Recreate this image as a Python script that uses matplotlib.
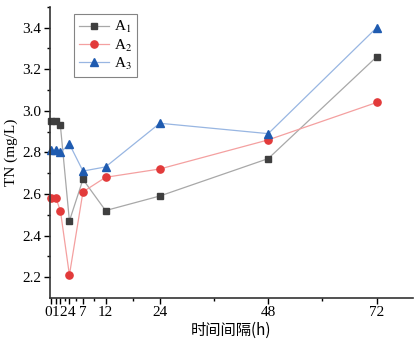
import matplotlib
matplotlib.use("Agg")
from matplotlib import pyplot as plt
from matplotlib.transforms import ScaledTranslation

hours = [0, 1, 2, 4, 7, 12, 24, 48, 72]
a1 = [2.95, 2.95, 2.93, 2.47, 2.67, 2.52, 2.59, 2.77, 3.26]
a2 = [2.58, 2.58, 2.52, 2.21, 2.61, 2.68, 2.72, 2.86, 3.04]
a3 = [2.81, 2.81, 2.80, 2.84, 2.71, 2.73, 2.94, 2.89, 3.40]
xticks = [0, 1, 2, 4, 7, 12, 24, 48, 72]
xticklabels = ["0", "1", "2", "4", "7", "12", "24", "48", "72"]
yticks = [2.2, 2.4, 2.6, 2.8, 3.0, 3.2, 3.4]

plt.rcParams['font.family'] = ['Liberation Serif', 'Noto Sans CJK SC']
plt.rcParams['mathtext.fontset'] = 'stix'

fig = plt.figure(figsize=(4.2, 3.42), dpi=100)
ax = fig.add_axes([0.119, 0.129, 0.864, 0.851])

ax.plot(hours, a1, color='#a8a8a8', lw=0.9, marker='s', ms=4.6,
        mfc='#3f3f3f', mec='#3f3f3f', label='A$_1$', clip_on=False)
ax.plot(hours, a2, color='#f4a0a0', lw=0.9, marker='o', ms=5.2,
        mfc='#e23a3a', mec='#e23a3a', label='A$_2$', clip_on=False)
ax.plot(hours, a3, color='#98b6e2', lw=0.9, marker='^', ms=5.8,
        mfc='#1f5bb0', mec='#1f5bb0', label='A$_3$', clip_on=False)

ax.set_xlim(-0.3, 80)
ax.set_ylim(2.1, 3.5)
ax.set_xticks(xticks)
ax.set_xticklabels(xticklabels)
ax.set_xticks([3, 5.5, 9.5, 18, 36, 60], minor=True)
ax.set_yticks(yticks)
ax.set_yticks([2.3, 2.5, 2.7, 2.9, 3.1, 3.3, 3.5], minor=True)
ax.tick_params(labelsize=11, direction='out', length=4, width=1, pad=2)
ax.tick_params(which='minor', length=2, width=1)

# the first few hour labels sit close together, nudge them apart
shifts = {0: -3.5, 1: -0.5, 2: 2.8, 3: 2.2}
for i, lab in enumerate(ax.get_xticklabels()):
    if i in shifts:
        lab.set_transform(lab.get_transform() + ScaledTranslation(shifts[i] / 100, 0, fig.dpi_scale_trans))

for s in ['top', 'right']:
    ax.spines[s].set_visible(False)
for s in ['left', 'bottom']:
    ax.spines[s].set_linewidth(1.2)
    ax.spines[s].set_color('#333333')

ax.set_xlabel("时间间隔(h)", fontsize=11, family=['Noto Sans CJK SC', 'Liberation Serif'], labelpad=2)
ax.set_ylabel("TN (mg/L)", fontsize=11, labelpad=3)

leg = ax.legend(loc='upper left', bbox_to_anchor=(0.045, 1.0), fontsize=11,
                frameon=True, fancybox=False, edgecolor='#666666',
                handlelength=2.0, borderpad=0.3, labelspacing=0.15, handletextpad=0.3)
leg.get_frame().set_linewidth(0.8)

fig.savefig("out.png", dpi=100)
